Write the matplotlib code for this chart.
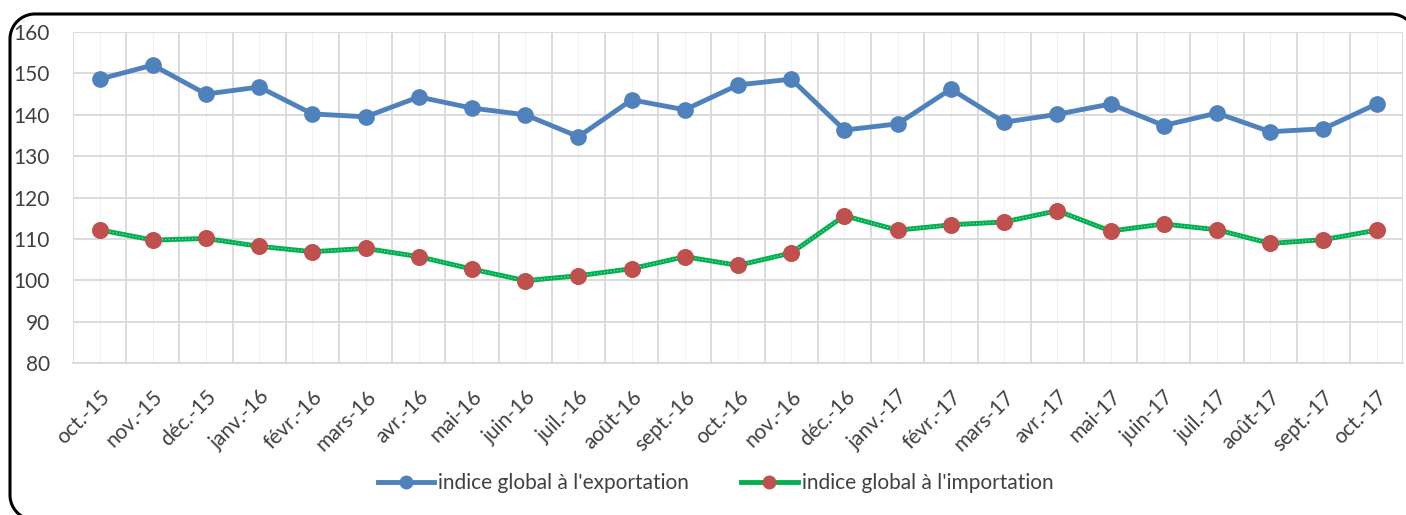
import matplotlib.pyplot as plt
from matplotlib.lines import Line2D
from matplotlib.ticker import MultipleLocator
import numpy as np

plt.rcParams['font.family'] = ['Lato', 'DejaVu Sans']

# mois (oct. 2015 - oct. 2017)
mois = ['oct.-15', 'nov.-15', 'déc.-15', 'janv.-16', 'févr.-16', 'mars-16', 'avr.-16',
        'mai-16', 'juin-16', 'juil.-16', 'août-16', 'sept.-16', 'oct.-16', 'nov.-16',
        'déc.-16', 'janv.-17', 'févr.-17', 'mars-17', 'avr.-17', 'mai-17', 'juin-17',
        'juil.-17', 'août-17', 'sept.-17', 'oct.-17']

export = [148.6, 152.0, 145.0, 146.7, 140.2, 139.5, 144.3, 141.6, 140.0, 134.7,
          143.6, 141.2, 147.2, 148.6, 136.3, 137.8, 146.2, 138.2, 140.1, 142.6,
          137.4, 140.4, 135.9, 136.6, 142.6]
importation = [112.2, 109.7, 110.1, 108.2, 106.9, 107.7, 105.7, 102.7, 99.9, 101.1,
               102.8, 105.7, 103.6, 106.6, 115.6, 112.1, 113.4, 114.1, 116.8, 111.9,
               113.6, 112.2, 108.9, 109.8, 112.1]

x = np.arange(len(mois))

W, H = 1406, 515
fig = plt.figure(figsize=(W / 100, H / 100), dpi=100)
ax = fig.add_axes([0.0519, 0.2951, 0.9461, 0.6428])

ax.plot(x, export, '-o', color='#4F81BD', lw=3.5, ms=11, mec='#4F81BD',
        label="indice global à l'exportation", zorder=3)
ax.plot(x, importation, '-o', color='#00B050', lw=3.5, ms=11, mfc='#C0504D', mec='#C0504D',
        label="indice global à l'importation", zorder=3)
# léger pointillé clair au centre de la ligne verte
ax.plot(x, importation, color='#9BE0B4', lw=0.8, ls=(0, (1, 2)), zorder=3.1)
ax.plot(x, importation, 'o', color='#C0504D', ms=11, zorder=3.2)

ax.set_xlim(-0.5, len(mois) - 0.5)
ax.set_ylim(80, 160)
ax.yaxis.set_major_locator(MultipleLocator(10))

# grille : lignes aux limites des catégories + lignes fines aux centres
ax.set_xticks(x)
ax.set_xticks(np.arange(len(mois) + 1) - 0.5, minor=True)
ax.grid(which='minor', axis='x', color='#D9D9D9', lw=1.3)
ax.grid(which='major', axis='x', color='#F2F2F2', lw=0.8)
ax.grid(which='major', axis='y', color='#D9D9D9', lw=1.3)
ax.set_axisbelow(True)

for s in ['top', 'right', 'left']:
    ax.spines[s].set_visible(False)
ax.spines['bottom'].set_color('#D9D9D9')
ax.spines['bottom'].set_linestyle((0, (2, 1)))
ax.spines['bottom'].set_linewidth(1.3)

ax.tick_params(which='both', length=0)
ax.tick_params(axis='y', labelsize=15, labelcolor='#404040', pad=16.5)
ax.set_xticklabels(mois, rotation=45, ha='right', va='top', rotation_mode='anchor',
                   fontsize=15, color='#404040')
ax.tick_params(axis='x', pad=17)

leg = fig.legend(loc='center', bbox_to_anchor=(0.509, 0.062), ncol=2, frameon=False,
                 fontsize=15, handlelength=2.7, columnspacing=2.5, handletextpad=0.2)
for t in leg.get_texts():
    t.set_color('#404040')
for h in leg.legend_handles:
    h.set_markersize(9)

# cadre arrondi (en pixels, y vers le haut), dépasse à droite et en bas
r = 25
left, top, right, bottom = 10, H - 14, 1416, -5
def arc(cx, cy, a0, a1):
    t = np.radians(np.linspace(a0, a1, 30))
    return cx + r * np.cos(t), cy + r * np.sin(t)
px, py = [], []
for cx, cy, a0, a1 in [(left + r, bottom + r, 270, 180), (left + r, top - r, 180, 90),
                       (right - r, top - r, 90, 0)]:
    ax_, ay_ = arc(cx, cy, a0, a1)
    px.extend(ax_)
    py.extend(ay_)
px.append(right)
py.append(bottom + r)
fig.add_artist(Line2D(np.array(px) / W, np.array(py) / H, transform=fig.transFigure,
                      color='black', lw=2.2, solid_capstyle='butt'))

fig.savefig('out.png', dpi=100)
